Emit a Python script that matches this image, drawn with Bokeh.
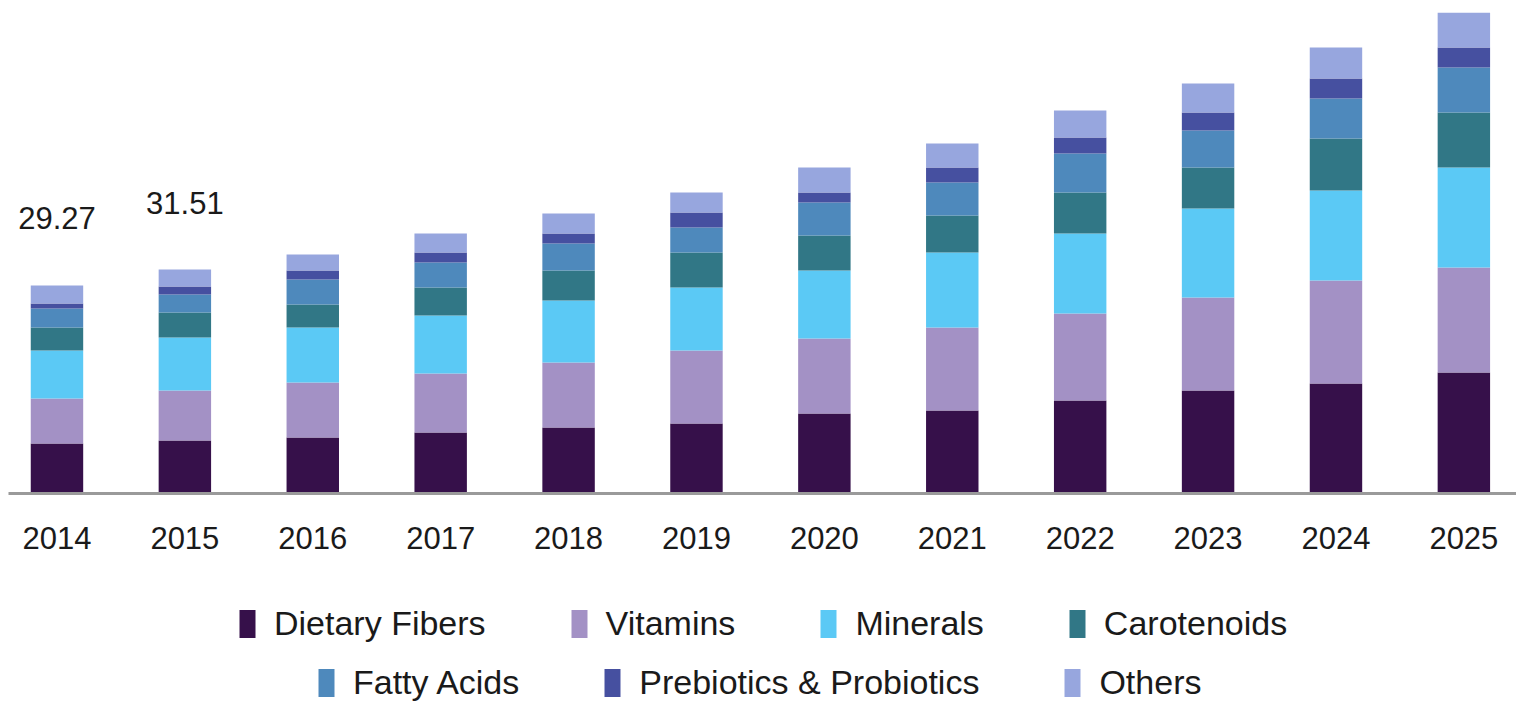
from bokeh.plotting import figure
from bokeh.models import Range1d, FixedTicker, ColumnDataSource, Legend, LegendItem
from bokeh.layouts import column
from bokeh.core.properties import value
from bokeh.embed import file_html
from bokeh.resources import INLINE

years = ["2014", "2015", "2016", "2017", "2018", "2019", "2020", "2021", "2022", "2023", "2024", "2025"]
dietary_fibers = [7.04, 7.46, 7.88, 8.58, 9.29, 9.85, 11.26, 11.68, 13.09, 14.49, 15.48, 17.02]
vitamins = [6.33, 7.04, 7.74, 8.30, 9.15, 10.27, 10.55, 11.68, 12.24, 13.09, 14.49, 14.77]
minerals = [6.75, 7.44, 7.74, 8.16, 8.72, 8.86, 9.57, 10.55, 11.26, 12.52, 12.66, 14.07]
carotenoids = [3.24, 3.52, 3.24, 3.94, 4.22, 4.92, 4.92, 5.21, 5.77, 5.77, 7.32, 7.74]
fatty_acids = [2.67, 2.53, 3.52, 3.52, 3.80, 3.52, 4.64, 4.64, 5.49, 5.21, 5.63, 6.33]
prebiotics = [0.70, 1.13, 1.27, 1.41, 1.41, 2.11, 1.41, 2.11, 2.25, 2.53, 2.81, 2.81]
others = [2.54, 2.39, 2.25, 2.67, 2.81, 2.81, 3.52, 3.38, 3.80, 4.08, 4.36, 4.92]

series_names = ["Dietary Fibers", "Vitamins", "Minerals", "Carotenoids",
                "Fatty Acids", "Prebiotics & Probiotics", "Others"]
colors = ["#36104a", "#a391c5", "#5bc9f5", "#317786", "#4e89bc", "#4650a0", "#97a6de"]

label_idx = [0, 1]
label_values = [29.27, 31.51]

FONT = "Liberation Sans"
TXT = "#1a1a1a"
px_per_unit = 7.107

keys = ["df", "vit", "min", "car", "fa", "pp", "oth"]
data = dict(x=list(range(len(years))), df=dietary_fibers, vit=vitamins, min=minerals,
            car=carotenoids, fa=fatty_acids, pp=prebiotics, oth=others)
source = ColumnDataSource(data)

# ---- main chart ----
p = figure(width=1516, height=568, output_backend="svg", toolbar_location=None,
           x_range=Range1d(-0.379, -0.379 + 1508 / 127.9), y_range=Range1d(0, 493 / px_per_unit),
           y_axis_location=None, min_border_left=8, min_border_right=0,
           min_border_top=0, min_border_bottom=75)
p.outline_line_color = None
p.xgrid.visible = False
p.ygrid.visible = False

renderers = p.vbar_stack(keys, x="x", width=0.41, color=colors, source=source, line_color=None)

lsrc = ColumnDataSource(dict(x=label_idx, y=[v + 67 / px_per_unit for v in label_values],
                             t=[f"{v:.2f}" for v in label_values]))
p.text(x="x", y="y", text="t", source=lsrc, text_align="center", text_baseline="alphabetic",
       text_font=value(FONT), text_font_size="31px", text_color=TXT)

ax = p.xaxis[0]
ax.ticker = FixedTicker(ticks=list(range(len(years))))
ax.major_label_overrides = {i: y for i, y in enumerate(years)}
ax.major_label_text_font = FONT
ax.major_label_text_font_size = "31px"
ax.major_label_text_color = TXT
ax.major_tick_line_color = None
ax.minor_tick_line_color = None
ax.major_tick_out = 0
ax.major_tick_in = 0
ax.major_label_standoff = 33
ax.axis_line_color = "#9a9a9a"
ax.axis_line_width = 3

# ---- legend strip ----
p2 = figure(width=1516, height=139, output_backend="svg", toolbar_location=None,
            x_range=Range1d(0, 1), y_range=Range1d(0, 1),
            x_axis_location=None, y_axis_location=None,
            min_border_left=0, min_border_right=0, min_border_top=0, min_border_bottom=0)
p2.outline_line_color = None
p2.xgrid.visible = False
p2.ygrid.visible = False

# swatch renderers for the legend (zero-height, so nothing is drawn in the strip itself)
dummy = [p2.vbar(x=[0.5], top=[0], bottom=[0], width=0, color=c, line_color=None) for c in colors]

def make_legend(idxs, loc):
    items = [LegendItem(label=series_names[i], renderers=[dummy[i]]) for i in idxs]
    lg = Legend(items=items, orientation="horizontal", location=loc)
    lg.glyph_width = 20
    lg.glyph_height = 35
    lg.label_standoff = 17
    lg.spacing = 83
    lg.padding = 0
    lg.margin = 0
    lg.border_line_color = None
    lg.background_fill_alpha = 0
    lg.label_text_font = FONT
    lg.label_text_font_size = "34px"
    lg.label_text_color = TXT
    lg.label_height = 36
    return lg

p2.add_layout(make_legend([0, 1, 2, 3], (229, 64)), "center")
p2.add_layout(make_legend([4, 5, 6], (308, 5)), "center")

layout = column(p, p2, spacing=0)
open("out.html", "w").write(file_html(layout, INLINE))
